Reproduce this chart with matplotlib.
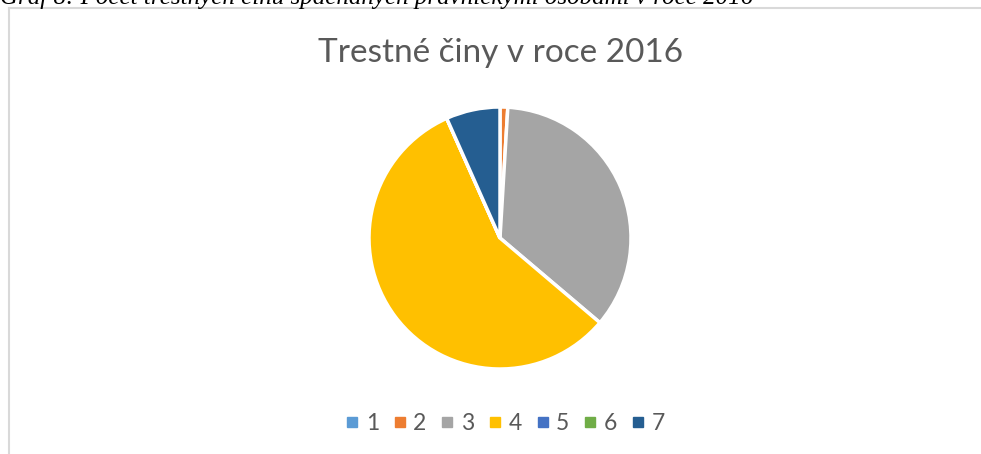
import matplotlib.pyplot as plt
from matplotlib.lines import Line2D

# data
categories = ["1", "2", "3", "4", "5", "6", "7"]
values = [0, 1, 37, 60, 0, 0, 7]
colors = ["#5B9BD5", "#ED7D31", "#A5A5A5", "#FFC000", "#4472C4", "#70AD47", "#255E91"]

title = "Trestné činy v roce 2016"
caption = "Graf 8: Počet trestných činů spáchaných právnickými osobami v roce 2016"

W, H = 981, 454
fig = plt.figure(figsize=(W / 100, H / 100), dpi=100)
ax = fig.add_axes([0, 0, 1, 1])
ax.set_xlim(0, W)
ax.set_ylim(0, H)
ax.set_aspect("equal")
ax.axis("off")

# pie in pixel coordinates
ax.pie(values, colors=colors, radius=131, center=(500, H - 238),
       startangle=90, counterclock=False,
       wedgeprops=dict(edgecolor="white", linewidth=2.5))
ax.set_xlim(0, W)
ax.set_ylim(0, H)

# chart frame (top and left)
ax.plot([8.5, W], [H - 8, H - 8], color="#D9D9D9", lw=1.5)
ax.plot([8.5, 8.5], [0, H - 8], color="#D9D9D9", lw=1.5)

# caption, cut off at the top like in the source document
fig.text(0.0, 1 - 4 / H, caption, fontsize=18, style="italic",
         family="Liberation Serif", color="black", va="baseline", ha="left")

fig.text(501 / W, 1 - 53 / H, title, fontsize=24, color="#595959",
         family="Lato", ha="center", va="center")

handles = [Line2D([], [], marker="s", linestyle="none", markersize=7,
                  color=c) for c in colors]
ax.legend(handles, categories, loc="center", bbox_to_anchor=(505 / W, 1 - 424 / H),
          ncol=7, frameon=False, handlelength=0.6, handletextpad=0.3,
          columnspacing=0.6, prop=dict(family="Lato", size=16.5),
          labelcolor="#595959")

fig.savefig("out.png", dpi=100)
